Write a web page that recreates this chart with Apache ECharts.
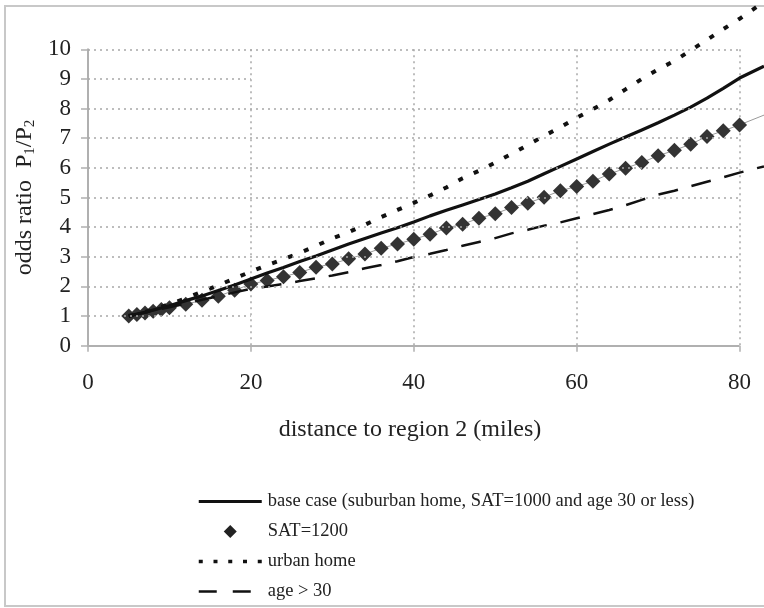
<!DOCTYPE html>
<html>
<head>
<meta charset="utf-8">
<script src="https://cdn.jsdelivr.net/npm/echarts@6/dist/echarts.min.js"></script>
<style>
html,body{margin:0;padding:0;background:#fff;}
#chart{width:764px;height:608px;}
</style>
</head>
<body>
<div id="chart"></div>
<script>
// distance to region 2 (miles)
const dist = [5,6,7,8,9,10,12,14,16,18,20,22,24,26,28,30,32,34,36,38,40,42,44,46,48,50,52,54,56,58,60,62,64,66,68,70,72,74,76,78,80,83];
const baseCase = [1.00,1.07,1.13,1.20,1.27,1.35,1.52,1.68,1.86,2.05,2.25,2.45,2.64,2.84,3.03,3.23,3.43,3.62,3.80,3.98,4.17,4.38,4.57,4.75,4.93,5.12,5.33,5.55,5.80,6.05,6.30,6.55,6.80,7.04,7.28,7.52,7.78,8.05,8.35,8.68,9.03,9.43];
const sat1200 = [1.00,1.05,1.10,1.16,1.22,1.28,1.40,1.53,1.67,1.87,2.08,2.20,2.33,2.47,2.65,2.76,2.93,3.09,3.29,3.43,3.59,3.76,3.97,4.10,4.30,4.45,4.66,4.81,5.01,5.23,5.37,5.55,5.79,5.99,6.18,6.41,6.59,6.80,7.06,7.25,7.45,7.78];
const urbanHome = [1.00,1.07,1.14,1.22,1.31,1.40,1.60,1.82,2.04,2.27,2.50,2.72,2.92,3.13,3.37,3.62,3.83,4.08,4.34,4.58,4.82,5.07,5.34,5.65,5.90,6.18,6.47,6.77,7.08,7.37,7.69,7.98,8.29,8.65,9.00,9.32,9.61,9.96,10.32,10.68,11.03,11.60];
const ageOver30 = [1.00,1.06,1.12,1.18,1.24,1.30,1.42,1.55,1.67,1.80,1.92,2.00,2.08,2.18,2.27,2.37,2.48,2.61,2.72,2.85,2.99,3.10,3.23,3.37,3.50,3.63,3.79,3.91,4.05,4.16,4.30,4.44,4.58,4.74,4.92,5.10,5.23,5.38,5.53,5.68,5.84,6.05];
const markerLastX = 80;   // SAT markers end here; thin line continues
const seriesNames = ['base case (suburban home, SAT=1000 and age 30 or less)','SAT=1200','urban home','age > 30'];
const xTicks = [0,20,40,60,80];
const xMin = 0, xLast = 80, xShown = 83;
const yFullGrid = [2,3,4,5,6,7,8,10];
const yPartialGrid = [1,9];
const partialGridEnd = 20;

const pairs = arr => dist.map((d,i)=>[d,arr[i]]);
const satData = dist.map((d,i)=> d > markerLastX ? {value:[d,sat1200[i]], symbol:'none'} : [d,sat1200[i]]);

const FONT = '"Liberation Serif","Times New Roman",serif';
const gridStyle = {color:'#a8a8a8', width:1.5, type:[2,4]};
const axisGray = '#b0b0b0';

const chart = echarts.init(document.getElementById('chart'), null, {renderer:'canvas'});
chart.setOption({
  animation:false,
  backgroundColor:'#fff',
  graphic:[{type:'rect', shape:{x:5,y:6,width:780,height:600}, style:{fill:'none', stroke:'#c8c8c8', lineWidth:2}, silent:true, z:-10}],
  grid:{left:88, top:49.3, right:0, bottom:262.3},
  xAxis:{
    type:'value', min:xMin, max:xShown,
    axisLine:{show:false},
    axisTick:{show:true, length:6, customValues:xTicks, lineStyle:{color:axisGray, width:1.5}},
    axisLabel:{fontFamily:FONT, fontSize:23, color:'#222', margin:26, customValues:xTicks},
    splitLine:{show:true, lineStyle:gridStyle},
    name:'distance to region 2 (miles)', nameLocation:'middle', nameGap:72,
    nameTextStyle:{fontFamily:FONT, fontSize:24, color:'#222', align:'center', padding:[0,32,0,0]}
  },
  yAxis:{
    type:'value', min:0, max:10, interval:1,
    axisLine:{show:true, lineStyle:{color:axisGray, width:2}},
    axisTick:{show:true, length:7, lineStyle:{color:axisGray, width:1.5}},
    axisLabel:{fontFamily:FONT, fontSize:23, color:'#222', margin:17},
    splitLine:{show:false},
    name:'odds ratio  P{s|1}/P{s|2}', nameLocation:'middle', nameGap:36, nameRotate:90,
    nameTextStyle:{fontFamily:FONT, fontSize:24, color:'#222', rich:{s:{fontFamily:FONT, fontSize:15, color:'#222', verticalAlign:'bottom', padding:[9,0,0,0]}}}
  },
  legend:{
    orient:'vertical', left:197, top:492, padding:0, itemWidth:63, itemHeight:13, itemGap:11,
    symbolKeepAspect:true,
    textStyle:{fontFamily:FONT, fontSize:18.5, color:'#222', padding:[0,0,0,1]},
    data:[
      {name:seriesNames[0], itemStyle:{opacity:0}, lineStyle:{width:3}},
      {name:seriesNames[1], icon:'path://M6,0 L12,6 L6,12 L0,6 Z', itemStyle:{color:'#222'}},
      {name:seriesNames[2], itemStyle:{opacity:0}, lineStyle:{width:3.5, type:[4,10.75]}},
      {name:seriesNames[3], itemStyle:{opacity:0}, lineStyle:{width:2.5, type:[18,16]}}
    ]
  },
  series:[
    {
      type:'line', name:'axes', data:[], silent:true, z:1,
      markLine:{
        silent:true, symbol:'none', label:{show:false}, animation:false,
        data: yFullGrid.map(v=>[{coord:[xMin,v], lineStyle:gridStyle},{coord:[xLast,v]}])
          .concat(yPartialGrid.map(v=>[{coord:[xMin,v], lineStyle:gridStyle},{coord:[partialGridEnd,v]}]))
          .concat([[{coord:[xMin,0], lineStyle:{color:axisGray, width:2, type:'solid'}},{coord:[xLast,0]}]])
      }
    },
    {
      type:'line', name:seriesNames[1], data:satData, clip:false, z:3,
      symbol:'diamond', symbolSize:15, itemStyle:{color:'#333'},
      lineStyle:{color:'#9a9a9a', width:1}
    },
    {
      type:'line', name:seriesNames[0], data:pairs(baseCase), clip:false, z:4,
      symbol:'none', lineStyle:{color:'#111', width:3.2}, itemStyle:{color:'#111'}
    },
    {
      type:'line', name:seriesNames[2], data:pairs(urbanHome), clip:false, z:4,
      symbol:'none', lineStyle:{color:'#111', width:4, type:[5,12]}, itemStyle:{color:'#111'}
    },
    {
      type:'line', name:seriesNames[3], data:pairs(ageOver30), clip:false, z:4,
      symbol:'none', lineStyle:{color:'#111', width:2.5, type:[20,14]}, itemStyle:{color:'#111'}
    }
  ]
});
</script>
</body>
</html>
